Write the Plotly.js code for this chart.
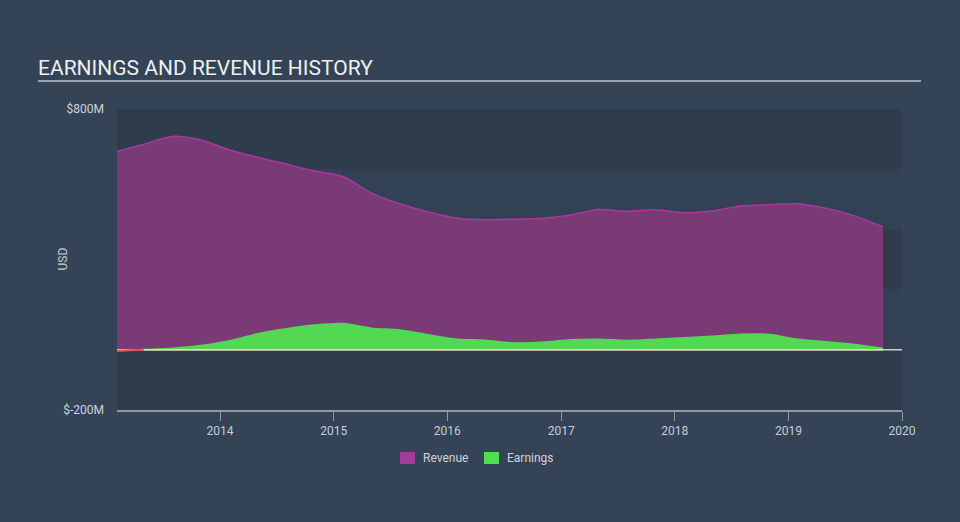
<!DOCTYPE html>
<html>
<head>
<meta charset="utf-8">
<script src="https://cdn.plot.ly/plotly-3.0.1.min.js"></script>
<style>
html,body{margin:0;padding:0;background:#344456;}
#chart{width:960px;height:522px;}
</style>
</head>
<body>
<div id="chart"></div>
<script>
// ---- data (values in $M) ----
const dates = ["2013-02-04","2013-05-01","2013-08-01","2013-11-01","2014-02-01","2014-05-01","2014-08-01","2014-11-01",
  "2015-02-01","2015-05-01","2015-08-01","2015-11-01","2016-02-01","2016-05-01","2016-08-01","2016-11-01",
  "2017-02-01","2017-05-01","2017-08-01","2017-11-01","2018-02-01","2018-05-01","2018-08-01","2018-11-01",
  "2019-02-01","2019-05-01","2019-08-01","2019-11-01"];
const revenue = [659,683,709,697,664,640,617,594,575,521,485,458,438,432,434,437,448,466,460,465,455,461,478,482,485,470,445,408];
const earnings = [-3,1,5,14,30,53,70,82,87,72,66,50,35,32,23,25,33,35,31,35,40,45,52,51,35,27,18,5];
const yTickVals = [-200,800];
const yTickText = ["$-200M","$800M"];
const xTickVals = ["2014-01-01","2015-01-01","2016-01-01","2017-01-01","2018-01-01","2019-01-01","2020-01-01"];
const xTickText = ["2014","2015","2016","2017","2018","2019","2020"];
const seriesNames = ["Revenue","Earnings"];
const legendColors = ["#a43a9e","#4de04d"];

const traces = [
  {x:dates, y:revenue, type:'scatter', mode:'lines', fill:'tozeroy', name:seriesNames[0],
   line:{color:'#a8379f', width:1.5, shape:'spline', smoothing:0.8}, fillcolor:'#7a3a76', showlegend:false, hoverinfo:'skip'},
  {x:dates, y:earnings, type:'scatter', mode:'lines', fill:'tozeroy', name:seriesNames[1],
   line:{color:'#52d853', width:1.5, shape:'spline', smoothing:0.8}, fillcolor:'#52d853', showlegend:false, hoverinfo:'skip'},
  {x:dates, y:dates.map(()=>0), type:'scatter', mode:'lines', line:{color:'#eadcae', width:1.5}, showlegend:false, hoverinfo:'skip'},
  {x:dates.slice(0,2), y:earnings.slice(0,2).map(v=>Math.min(v,0)), type:'scatter', mode:'lines', line:{color:'#e8504a', width:2}, showlegend:false, hoverinfo:'skip'}
];

const dark = '#2e3c4c';
const light = '#324254';
const shapes = [];
[[600,800],[200,400],[-200,0]].forEach(b=>shapes.push({type:'rect', xref:'paper', yref:'y', x0:0, x1:1, y0:b[0], y1:b[1], fillcolor:dark, line:{width:0}, layer:'below'}));
[[0,200],[400,600]].forEach(b=>shapes.push({type:'rect', xref:'paper', yref:'y', x0:0, x1:1, y0:b[0], y1:b[1], fillcolor:light, line:{width:0}, layer:'below'}));
// zero line across plot
shapes.push({type:'line', xref:'paper', yref:'y', x0:0, x1:1, y0:0, y1:0, line:{color:'#c9ced4', width:1.5}, layer:'below'});
// title underline
shapes.push({type:'line', xref:'paper', yref:'paper', x0:(38-117)/785, x1:(921-117)/785, y0:(410-81)/301, y1:(410-81)/301, line:{color:'#9aa3ad', width:2}});
// legend swatches
const annotations = [
  {text:'USD', xref:'paper', yref:'paper', x:(62-117)/785, y:0.5, textangle:-90, showarrow:false, font:{size:12, color:'#c6ccd3'}, xanchor:'center', yanchor:'middle'}
];
const legX = [400, 484];
seriesNames.forEach((n,i)=>{
  shapes.push({type:'rect', xref:'paper', yref:'paper', x0:(legX[i]-117)/785, x1:(legX[i]+15-117)/785,
               y0:(410-464)/301, y1:(410-452)/301, fillcolor:legendColors[i], line:{width:0}});
  annotations.push({text:n, xref:'paper', yref:'paper', x:(legX[i]+21-117)/785, y:(410-458)/301, xanchor:'left', yanchor:'middle',
               showarrow:false, font:{size:12, color:'#d0d4d9'}});
});

const layout = {
  width:960, height:522,
  margin:{l:117, r:58, t:109, b:112, autoexpand:false},
  paper_bgcolor:'#344456', plot_bgcolor:light,
  font:{family:'Roboto, sans-serif', color:'#c6ccd3', size:12},
  title:{text:'EARNINGS AND REVENUE HISTORY', x:38/960, xanchor:'left', y:1-68/522, yanchor:'middle',
         font:{family:'Roboto, sans-serif', size:21, color:'#eef0f2'}},
  xaxis:{type:'date', range:['2013-02-04','2020-01-01'], tickvals:xTickVals, ticktext:xTickText,
         showgrid:false, zeroline:false, showline:true, linecolor:'#8c9aa8', linewidth:1.5,
         ticks:'outside', ticklen:9, tickcolor:'#8c9aa8', tickwidth:1,
         tickfont:{size:12, color:'#c6ccd3'}},
  yaxis:{range:[-200,800], tickvals:yTickVals, ticktext:yTickText, showgrid:false, zeroline:false,
         showline:false, ticks:'', ticklabelstandoff:12, tickfont:{size:12, color:'#d0d4d9'}},
  shapes:shapes,
  annotations:annotations,
  showlegend:false
};

Plotly.newPlot('chart', traces, layout, {staticPlot:true, displayModeBar:false});
</script>
</body>
</html>
